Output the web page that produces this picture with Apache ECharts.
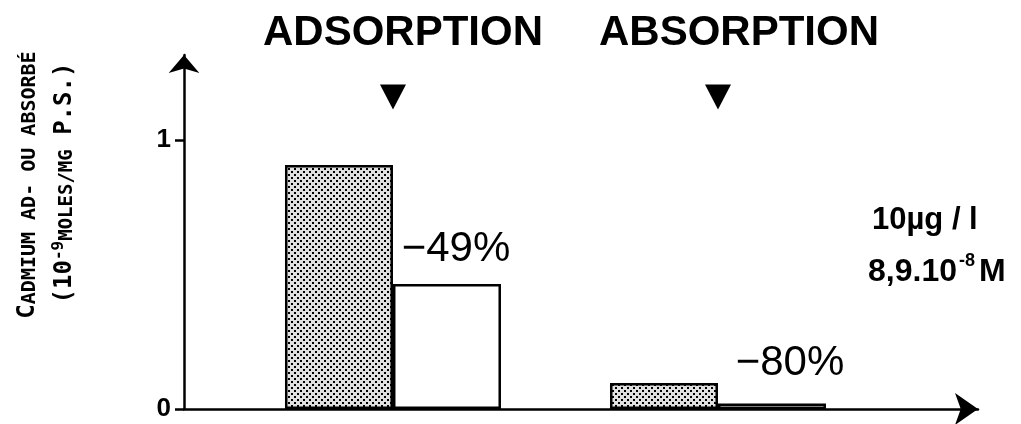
<!DOCTYPE html>
<html>
<head>
<meta charset="utf-8">
<script src="https://cdn.jsdelivr.net/npm/echarts@6/dist/echarts.min.js"></script>
<style>
  html, body { margin: 0; padding: 0; background: #fff; }
  #chart { width: 1021px; height: 424px; }
</style>
</head>
<body>
<div id="chart"></div>
<script>
// données
const categories = ['ADSORPTION', 'ABSORPTION'];
const groupPos = [1, 2];
const controlValues = [0.907, 0.097];   // témoin (barres pointillées)
const treatedValues = [0.465, 0.02];    // traité (barres blanches)
const changeLabels = ['\u221249%', '\u221280%'];
const markerLevel = [1.16, 1.16];
const yTicks = [0, 1];

// motif pointillé pour les barres témoin
const pat = document.createElement('canvas');
pat.width = 6;
pat.height = 6;
const pctx = pat.getContext('2d');
pctx.fillStyle = '#e0e0e0';
pctx.fillRect(0, 0, 6, 6);
pctx.fillStyle = '#000';
pctx.fillRect(0, 0, 2, 2);
pctx.fillRect(3, 3, 2, 2);

const chart = echarts.init(document.getElementById('chart'));

const labelOffsets = [[9, -8], [18, -14]];
const titleOffsets = [[10, 0], [21, 0]];

const option = {
  backgroundColor: '#fff',
  animation: false,
  grid: { left: 184, right: 43, top: 55, bottom: 15 },
  xAxis: {
    type: 'value',
    min: 0.357,
    max: 2.8,
    axisLine: {
      show: true,
      symbol: ['none', 'arrow'],
      symbolSize: [24, 23],
      lineStyle: { color: '#000', width: 2.5 }
    },
    axisTick: { show: false },
    axisLabel: { show: false },
    splitLine: { show: false }
  },
  yAxis: {
    type: 'value',
    min: 0,
    max: 1.316,
    axisLine: {
      show: true,
      symbol: ['none', 'arrow'],
      symbolSize: [23, 18],
      lineStyle: { color: '#000', width: 2.5 }
    },
    axisTick: {
      show: true,
      customValues: yTicks,
      length: 9,
      lineStyle: { color: '#000', width: 2.5 }
    },
    axisLabel: {
      show: true,
      customValues: yTicks,
      margin: 13,
      color: '#000',
      fontSize: 26,
      fontWeight: 'bold',
      fontFamily: 'Liberation Sans'
    },
    splitLine: { show: false }
  },
  series: [
    {
      name: 'témoin',
      type: 'bar',
      barWidth: 108,
      barGap: '0%',
      data: groupPos.map((x, i) => [x, controlValues[i]]),
      itemStyle: {
        color: { image: pat, repeat: 'repeat' },
        borderColor: '#000',
        borderWidth: 2.5
      }
    },
    {
      name: 'traité',
      type: 'bar',
      barWidth: 108,
      barGap: '0%',
      data: groupPos.map((x, i) => ({
        value: [x, treatedValues[i]],
        label: { offset: labelOffsets[i] }
      })),
      itemStyle: {
        color: '#fff',
        borderColor: '#000',
        borderWidth: 2.5
      },
      label: {
        show: true,
        position: 'top',
        formatter: p => changeLabels[p.dataIndex],
        color: '#000',
        fontSize: 42,
        fontFamily: 'Liberation Sans'
      }
    },
    {
      type: 'scatter',
      symbol: 'triangle',
      symbolRotate: 180,
      symbolSize: [26, 25],
      itemStyle: { color: '#000', opacity: 1 },
      data: groupPos.map((x, i) => ({
        value: [x, markerLevel[i]],
        label: { offset: titleOffsets[i] }
      })),
      label: {
        show: true,
        position: 'top',
        distance: 30,
        formatter: p => categories[p.dataIndex],
        color: '#000',
        fontSize: 42,
        fontWeight: 'bold',
        fontFamily: 'Liberation Sans'
      }
    }
  ],
  graphic: [
    {
      type: 'text',
      x: 28,
      y: 185,
      rotation: Math.PI / 2,
      style: {
        text: '{a|C}{b|ADMIUM AD- OU ABSORBÉ}',
        align: 'center',
        verticalAlign: 'middle',
        rich: {
          a: { fontSize: 24, fontWeight: 'bold', fontFamily: 'DejaVu Sans Mono', fill: '#000', verticalAlign: 'bottom', lineHeight: 24 },
          b: { fontSize: 20, fontWeight: 'bold', fontFamily: 'DejaVu Sans Mono', fill: '#000', verticalAlign: 'bottom', lineHeight: 24 }
        }
      }
    },
    {
      type: 'text',
      x: 64,
      y: 183,
      rotation: Math.PI / 2,
      style: {
        text: '{a|(10}{s|-9}{m|MOLES/MG}{a| P.S.)}',
        align: 'center',
        verticalAlign: 'middle',
        rich: {
          a: { fontSize: 24, fontWeight: 'bold', fontFamily: 'DejaVu Sans Mono', fill: '#000', verticalAlign: 'bottom', lineHeight: 26 },
          s: { fontSize: 16, fontWeight: 'bold', fontFamily: 'DejaVu Sans Mono', fill: '#000', verticalAlign: 'top', lineHeight: 26 },
          m: { fontSize: 19, fontWeight: 'bold', fontFamily: 'DejaVu Sans Mono', fill: '#000', verticalAlign: 'bottom', lineHeight: 26 }
        }
      }
    },
    {
      type: 'text',
      x: 872,
      y: 220,
      style: {
        text: '10µg / l',
        fill: '#000',
        fontSize: 31,
        fontWeight: 'bold',
        fontFamily: 'Liberation Sans',
        align: 'left',
        verticalAlign: 'middle'
      }
    },
    {
      type: 'text',
      x: 868,
      y: 270,
      style: {
        text: '{a|8,9.10}{s|-8}{a|M}',
        align: 'left',
        verticalAlign: 'middle',
        rich: {
          a: { fontSize: 32, fontWeight: 'bold', fontFamily: 'Liberation Sans', fill: '#000', verticalAlign: 'bottom', lineHeight: 36 },
          s: { fontSize: 18, fontWeight: 'bold', fontFamily: 'Liberation Sans', fill: '#000', verticalAlign: 'top', lineHeight: 36, padding: [0, 4, 0, 2] }
        }
      }
    }
  ]
};

chart.setOption(option);
</script>
</body>
</html>
